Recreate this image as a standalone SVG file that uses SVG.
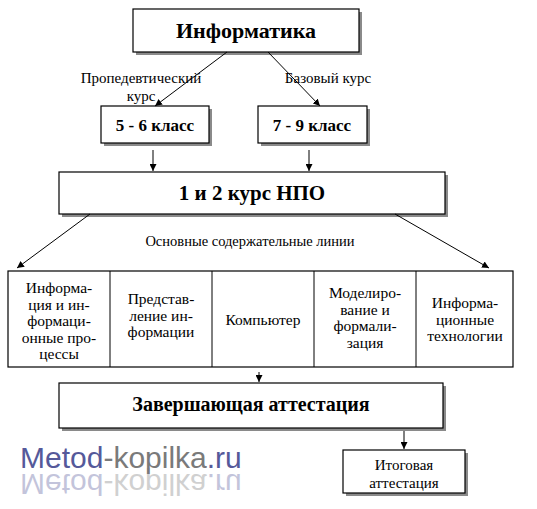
<svg xmlns="http://www.w3.org/2000/svg" width="537" height="509" viewBox="0 0 537 509">
<defs>
<marker id="ah" viewBox="0 0 10 10" refX="10" refY="5" markerWidth="7" markerHeight="7" orient="auto" markerUnits="userSpaceOnUse">
<path d="M0,0 L10,5 L0,10 z" fill="#000"/>
</marker>
</defs>
<style>
.box{fill:#fff;stroke:#000;stroke-width:1.2}
.sh{fill:#8a8a8a}
.t{fill:#000;font-family:'Liberation Serif','DejaVu Serif','Noto Serif',serif}
.b{font-weight:bold}
.c{text-anchor:middle}
.ln{stroke:#000;stroke-width:1;fill:none;marker-end:url(#ah)}
.wm{font-family:'Liberation Sans','DejaVu Sans',sans-serif;font-size:30px}
</style>
<rect width="537" height="509" fill="#fff"/>

<g id="informatika">
<rect class="sh" x="136" y="12" width="226" height="43"/>
<rect class="box" x="133" y="9" width="226" height="43"/>
<text class="t b c" x="246" y="38" font-size="22">Информатика</text>
</g>

<g id="labels">
<text class="t c" x="141" y="83" font-size="15">Пропедевтический</text>
<text class="t c" x="141" y="101" font-size="15">курс</text>
<text class="t c" x="328" y="83" font-size="15">Базовый курс</text>
<text class="t c" x="250" y="246" font-size="14.5">Основные содержательные линии</text>
</g>

<g id="k56">
<rect class="sh" x="104" y="109" width="108" height="37"/>
<rect class="box" x="101" y="106" width="108" height="37"/>
<text class="t b c" x="155" y="131" font-size="17">5 - 6 класс</text>
</g>

<g id="k79">
<rect class="sh" x="261" y="109" width="109" height="37"/>
<rect class="box" x="258" y="106" width="109" height="37"/>
<text class="t b c" x="312" y="131" font-size="17">7 - 9 класс</text>
</g>

<g id="npo">
<rect class="sh" x="62" y="175" width="386" height="42"/>
<rect class="box" x="59" y="172" width="386" height="42"/>
<text class="t b c" x="252" y="200" font-size="21">1 и 2 курс НПО</text>
</g>

<g id="lines">
<rect class="box" x="8" y="271" width="505" height="96"/>
<line x1="110" y1="271" x2="110" y2="367" stroke="#000"/>
<line x1="212" y1="271" x2="212" y2="367" stroke="#000"/>
<line x1="314" y1="271" x2="314" y2="367" stroke="#000"/>
<line x1="416" y1="271" x2="416" y2="367" stroke="#000"/>
<text class="t c" font-size="15.5"><tspan x="59" y="293">Информа-</tspan><tspan x="59" y="309.5">ция и ин-</tspan><tspan x="59" y="326">формаци-</tspan><tspan x="59" y="342.5">онные про-</tspan><tspan x="59" y="359">цессы</tspan></text>
<text class="t c" font-size="15.5"><tspan x="161" y="304">Представ-</tspan><tspan x="161" y="320.5">ление ин-</tspan><tspan x="161" y="337">формации</tspan></text>
<text class="t c" font-size="15.5" x="263" y="325">Компьютер</text>
<text class="t c" font-size="15.5"><tspan x="365" y="298">Моделиро-</tspan><tspan x="365" y="314.5">вание и</tspan><tspan x="365" y="331">формали-</tspan><tspan x="365" y="347.5">зация</tspan></text>
<text class="t c" font-size="15.5"><tspan x="465" y="308">Информа-</tspan><tspan x="465" y="324.5">ционные</tspan><tspan x="465" y="341">технологии</tspan></text>
</g>

<g id="final">
<rect class="sh" x="62" y="386" width="384" height="45"/>
<rect class="box" x="59" y="383" width="384" height="45"/>
<text class="t b c" x="251" y="411" font-size="20">Завершающая аттестация</text>
</g>

<g id="itog">
<rect class="sh" x="346" y="453" width="122" height="43"/>
<rect class="box" x="343" y="450" width="122" height="43"/>
<text class="t c" font-size="15"><tspan x="404" y="470">Итоговая</tspan><tspan x="404" y="488">аттестация</tspan></text>
</g>

<g id="connectors">
<line class="ln" x1="227" y1="52" x2="155" y2="106"/>
<line class="ln" x1="268" y1="52" x2="320" y2="106"/>
<line class="ln" x1="153" y1="150" x2="153" y2="171"/>
<line class="ln" x1="309" y1="150" x2="309" y2="171"/>
<line class="ln" x1="90" y1="214" x2="17" y2="268"/>
<line class="ln" x1="395" y1="214" x2="489" y2="268"/>
<line class="ln" x1="259" y1="372" x2="259" y2="382"/>
<line class="ln" x1="404" y1="431" x2="404" y2="449"/>
</g>

<g id="watermark">
<text class="wm" x="20" y="468"><tspan fill="#55599a">Metod</tspan><tspan fill="#7a7a7a">-kopilka</tspan><tspan fill="#55599a">.ru</tspan></text>
<text class="wm" x="20" y="-474" transform="scale(1,-1)" opacity="0.35"><tspan fill="#55599a">Metod</tspan><tspan fill="#7a7a7a">-kopilka</tspan><tspan fill="#55599a">.ru</tspan></text>
</g>
</svg>
